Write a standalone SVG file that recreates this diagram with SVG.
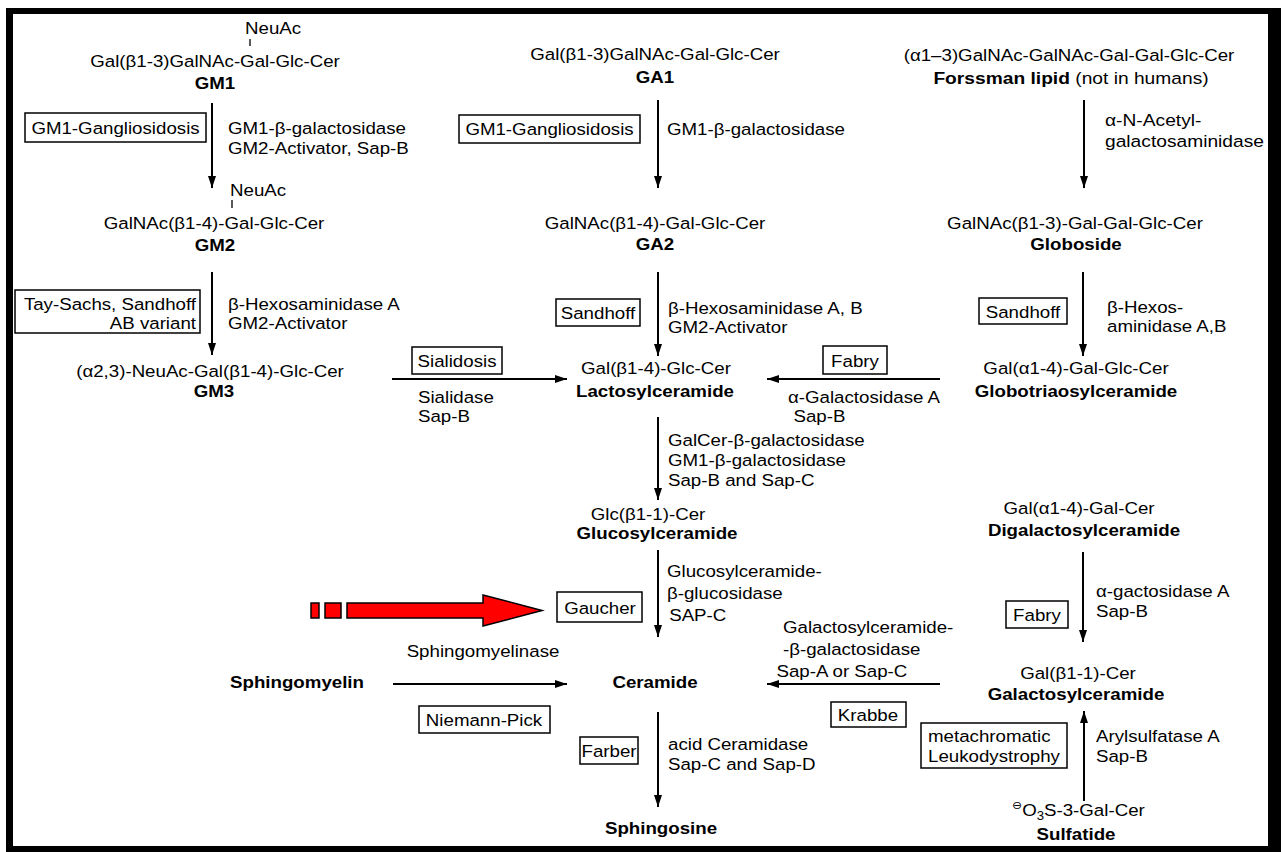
<svg xmlns="http://www.w3.org/2000/svg" width="1285" height="852" viewBox="0 0 1285 852">
<style>
.t{font-family:"Liberation Sans",Arial,"DejaVu Sans",sans-serif;font-size:17px;fill:#000}
.b{font-weight:bold}
.m{text-anchor:middle}
.e{text-anchor:end}
.box{fill:none;stroke:#000;stroke-width:1.5}
.ln{stroke:#000;stroke-width:2;fill:none}
.tick{stroke:#000;stroke-width:1.3}
</style>
<defs>
<marker id="ah" markerUnits="userSpaceOnUse" markerWidth="12" markerHeight="8" refX="12" refY="4" orient="auto"><path d="M0,0 L12,4 L0,8 z" fill="#000"/></marker>
</defs>
<rect x="0" y="0" width="1285" height="852" fill="#fff"/>

<g id="connectors">
<line class="ln" x1="212" y1="103" x2="212" y2="188" marker-end="url(#ah)"/>
<line class="ln" x1="212" y1="272" x2="212" y2="355" marker-end="url(#ah)"/>
<line class="ln" x1="658" y1="100" x2="658" y2="188" marker-end="url(#ah)"/>
<line class="ln" x1="658" y1="272" x2="658" y2="356" marker-end="url(#ah)"/>
<line class="ln" x1="1084" y1="100" x2="1084" y2="188" marker-end="url(#ah)"/>
<line class="ln" x1="1083" y1="272" x2="1083" y2="356" marker-end="url(#ah)"/>
<line class="ln" x1="392" y1="379" x2="567" y2="379" marker-end="url(#ah)"/>
<line class="ln" x1="940" y1="379" x2="767" y2="379" marker-end="url(#ah)"/>
<line class="ln" x1="658" y1="417" x2="658" y2="500" marker-end="url(#ah)"/>
<line class="ln" x1="658" y1="550" x2="658" y2="637" marker-end="url(#ah)"/>
<line class="ln" x1="1083" y1="552" x2="1083" y2="642" marker-end="url(#ah)"/>
<line class="ln" x1="393" y1="684" x2="567" y2="684" marker-end="url(#ah)"/>
<line class="ln" x1="940" y1="684" x2="767" y2="684" marker-end="url(#ah)"/>
<line class="ln" x1="658" y1="712" x2="658" y2="807" marker-end="url(#ah)"/>
<line class="ln" x1="1084" y1="801" x2="1084" y2="711" marker-end="url(#ah)"/>
</g>

<g id="GM1">
<text class="t" transform="translate(245,34) scale(1.1,1)">NeuAc</text>
<line class="tick" x1="250" y1="39" x2="250" y2="46"/>
<text class="t m" transform="translate(215,67) scale(1.1,1)">Gal(β1-3)GalNAc-Gal-Glc-Cer</text>
<text class="t b m" transform="translate(215,89) scale(1.1,1)">GM1</text>
</g>
<g id="GM2">
<text class="t" transform="translate(230,196) scale(1.1,1)">NeuAc</text>
<line class="tick" x1="232" y1="200" x2="232" y2="208"/>
<text class="t m" transform="translate(214,229) scale(1.1,1)">GalNAc(β1-4)-Gal-Glc-Cer</text>
<text class="t b m" transform="translate(215,251) scale(1.1,1)">GM2</text>
</g>
<g id="GM3">
<text class="t m" transform="translate(210,377) scale(1.1,1)">(α2,3)-NeuAc-Gal(β1-4)-Glc-Cer</text>
<text class="t b m" transform="translate(214,397) scale(1.1,1)">GM3</text>
</g>
<g id="GA1">
<text class="t m" transform="translate(655,60) scale(1.1,1)">Gal(β1-3)GalNAc-Gal-Glc-Cer</text>
<text class="t b m" transform="translate(655,83) scale(1.1,1)">GA1</text>
</g>
<g id="GA2">
<text class="t m" transform="translate(655,229) scale(1.1,1)">GalNAc(β1-4)-Gal-Glc-Cer</text>
<text class="t b m" transform="translate(655,250) scale(1.1,1)">GA2</text>
</g>
<g id="Lactosylceramide">
<text class="t m" transform="translate(656,374) scale(1.1,1)">Gal(β1-4)-Glc-Cer</text>
<text class="t b m" transform="translate(655,397) scale(1.1,1)">Lactosylceramide</text>
</g>
<g id="Glucosylceramide">
<text class="t m" transform="translate(648,520) scale(1.1,1)">Glc(β1-1)-Cer</text>
<text class="t b m" transform="translate(657,539) scale(1.1,1)">Glucosylceramide</text>
</g>
<g id="Ceramide">
<text class="t b m" transform="translate(655,688) scale(1.1,1)">Ceramide</text>
</g>
<g id="Sphingomyelin">
<text class="t b m" transform="translate(297,688) scale(1.1,1)">Sphingomyelin</text>
</g>
<g id="Sphingosine">
<text class="t b m" transform="translate(661,834) scale(1.1,1)">Sphingosine</text>
</g>
<g id="Forssman">
<text class="t m" transform="translate(1069,61) scale(1.1,1)">(α1–3)GalNAc-GalNAc-Gal-Gal-Glc-Cer</text>
<text class="t m" transform="translate(1071,84) scale(1.13,1)"><tspan class="b">Forssman lipid</tspan> (not in humans)</text>
</g>
<g id="Globoside">
<text class="t m" transform="translate(1075,229) scale(1.1,1)">GalNAc(β1-3)-Gal-Gal-Glc-Cer</text>
<text class="t b m" transform="translate(1076,250) scale(1.1,1)">Globoside</text>
</g>
<g id="Globotriaosylceramide">
<text class="t m" transform="translate(1076,374) scale(1.1,1)">Gal(α1-4)-Gal-Glc-Cer</text>
<text class="t b m" transform="translate(1076,397) scale(1.1,1)">Globotriaosylceramide</text>
</g>
<g id="Digalactosylceramide">
<text class="t m" transform="translate(1079,514) scale(1.1,1)">Gal(α1-4)-Gal-Cer</text>
<text class="t b m" transform="translate(1084,536) scale(1.1,1)">Digalactosylceramide</text>
</g>
<g id="Galactosylceramide">
<text class="t m" transform="translate(1078,679) scale(1.1,1)">Gal(β1-1)-Cer</text>
<text class="t b m" transform="translate(1076,700) scale(1.1,1)">Galactosylceramide</text>
</g>
<g id="Sulfatide">
<text class="t" transform="translate(1012,816) scale(1.1,1)"><tspan font-size="11" dy="-7">⊖</tspan><tspan dy="7">O</tspan><tspan font-size="12" dy="4">3</tspan><tspan dy="-4">S-3-Gal-Cer</tspan></text>
<text class="t b m" transform="translate(1076,840) scale(1.1,1)">Sulfatide</text>
</g>

<g id="enzymes">
<text class="t" transform="translate(228,134) scale(1.1,1)"><tspan x="0">GM1-β-galactosidase</tspan><tspan x="0" dy="20">GM2-Activator, Sap-B</tspan></text>
<text class="t" transform="translate(228,310) scale(1.1,1)"><tspan x="0">β-Hexosaminidase A</tspan><tspan x="0" dy="19">GM2-Activator</tspan></text>
<text class="t" transform="translate(667,135) scale(1.1,1)">GM1-β-galactosidase</text>
<text class="t" transform="translate(668,314) scale(1.1,1)"><tspan x="0">β-Hexosaminidase A, B</tspan><tspan x="0" dy="19">GM2-Activator</tspan></text>
<text class="t" transform="translate(1105,126) scale(1.13,1)"><tspan x="0">α-N-Acetyl-</tspan><tspan x="0" dy="21">galactosaminidase</tspan></text>
<text class="t" transform="translate(1107,313) scale(1.1,1)"><tspan x="0">β-Hexos-</tspan><tspan x="0" dy="19">aminidase A,B</tspan></text>
<text class="t" transform="translate(418,403) scale(1.1,1)"><tspan x="0">Sialidase</tspan><tspan x="0" dy="19">Sap-B</tspan></text>
<text class="t" transform="translate(788,403) scale(1.1,1)"><tspan x="0">α-Galactosidase A</tspan><tspan x="5" dy="19">Sap-B</tspan></text>
<text class="t" transform="translate(668,446) scale(1.1,1)"><tspan x="0">GalCer-β-galactosidase</tspan><tspan x="0" dy="20">GM1-β-galactosidase</tspan><tspan x="0" dy="20">Sap-B and Sap-C</tspan></text>
<text class="t" transform="translate(667,577) scale(1.1,1)"><tspan x="0">Glucosylceramide-</tspan><tspan x="0" dy="22">β-glucosidase</tspan><tspan x="2" dy="22">SAP-C</tspan></text>
<text class="t m" transform="translate(483,657) scale(1.1,1)">Sphingomyelinase</text>
<text class="t" transform="translate(668,750) scale(1.1,1)"><tspan x="0">acid Ceramidase</tspan><tspan x="0" dy="20">Sap-C and Sap-D</tspan></text>
<text class="t" transform="translate(1096,597) scale(1.1,1)"><tspan x="0">α-gactosidase A</tspan><tspan x="0" dy="20">Sap-B</tspan></text>
<text class="t" transform="translate(783,633) scale(1.1,1)"><tspan x="0">Galactosylceramide-</tspan><tspan x="0" dy="22">-β-galactosidase</tspan><tspan x="-6" dy="22">Sap-A or Sap-C</tspan></text>
<text class="t" transform="translate(1096,742) scale(1.1,1)"><tspan x="0">Arylsulfatase A</tspan><tspan x="0" dy="20">Sap-B</tspan></text>
</g>

<g id="disease-GM1-Gangliosidosis-1"><rect class="box" x="25" y="113" width="181" height="29"/><text class="t m" transform="translate(115.5,134) scale(1.1,1)">GM1-Gangliosidosis</text></g>
<g id="disease-GM1-Gangliosidosis-2"><rect class="box" x="459" y="115" width="181" height="28"/><text class="t m" transform="translate(549.5,135) scale(1.1,1)">GM1-Gangliosidosis</text></g>
<g id="disease-TaySachs"><rect class="box" x="15" y="290" width="185" height="43"/><text class="t e" transform="translate(196,310) scale(1.1,1)"><tspan x="0">Tay-Sachs, Sandhoff</tspan><tspan x="0" dy="19">AB variant</tspan></text></g>
<g id="disease-Sandhoff-1"><rect class="box" x="556" y="299" width="84" height="27"/><text class="t m" transform="translate(598,319) scale(1.1,1)">Sandhoff</text></g>
<g id="disease-Sandhoff-2"><rect class="box" x="979" y="298" width="88" height="26"/><text class="t m" transform="translate(1023,318) scale(1.1,1)">Sandhoff</text></g>
<g id="disease-Sialidosis"><rect class="box" x="412" y="347" width="90" height="27"/><text class="t m" transform="translate(457,367) scale(1.1,1)">Sialidosis</text></g>
<g id="disease-Fabry-1"><rect class="box" x="823" y="346" width="64" height="28"/><text class="t m" transform="translate(855,367) scale(1.1,1)">Fabry</text></g>
<g id="disease-Gaucher"><rect class="box" x="557" y="592" width="85" height="30"/><text class="t m" transform="translate(600,614) scale(1.1,1)">Gaucher</text></g>
<g id="disease-Fabry-2"><rect class="box" x="1006" y="601" width="62" height="27"/><text class="t m" transform="translate(1037,621) scale(1.1,1)">Fabry</text></g>
<g id="disease-NiemannPick"><rect class="box" x="419" y="706" width="131" height="27"/><text class="t m" transform="translate(484,726) scale(1.1,1)">Niemann-Pick</text></g>
<g id="disease-Farber"><rect class="box" x="580" y="737" width="58" height="27"/><text class="t m" transform="translate(609,757) scale(1.1,1)">Farber</text></g>
<g id="disease-Krabbe"><rect class="box" x="831" y="702" width="75" height="25"/><text class="t m" transform="translate(868,721) scale(1.1,1)">Krabbe</text></g>
<g id="disease-MLD"><rect class="box" x="921" y="723" width="146" height="45"/><text class="t" transform="translate(928,742) scale(1.1,1)"><tspan x="0">metachromatic</tspan><tspan x="0" dy="20">Leukodystrophy</tspan></text></g>

<g id="red-arrow" fill="#ff0000" stroke="#000" stroke-width="1.5">
<rect x="311" y="603" width="8" height="15"/>
<rect x="325" y="603" width="16" height="15"/>
<polygon points="347,603 483,603 483,595 542,610.5 483,626 483,618 347,618"/>
</g>

<path id="frame" fill="#000" fill-rule="evenodd" d="M6,8H1281V852H6Z M13,14V846H1268V14Z"/>
</svg>
